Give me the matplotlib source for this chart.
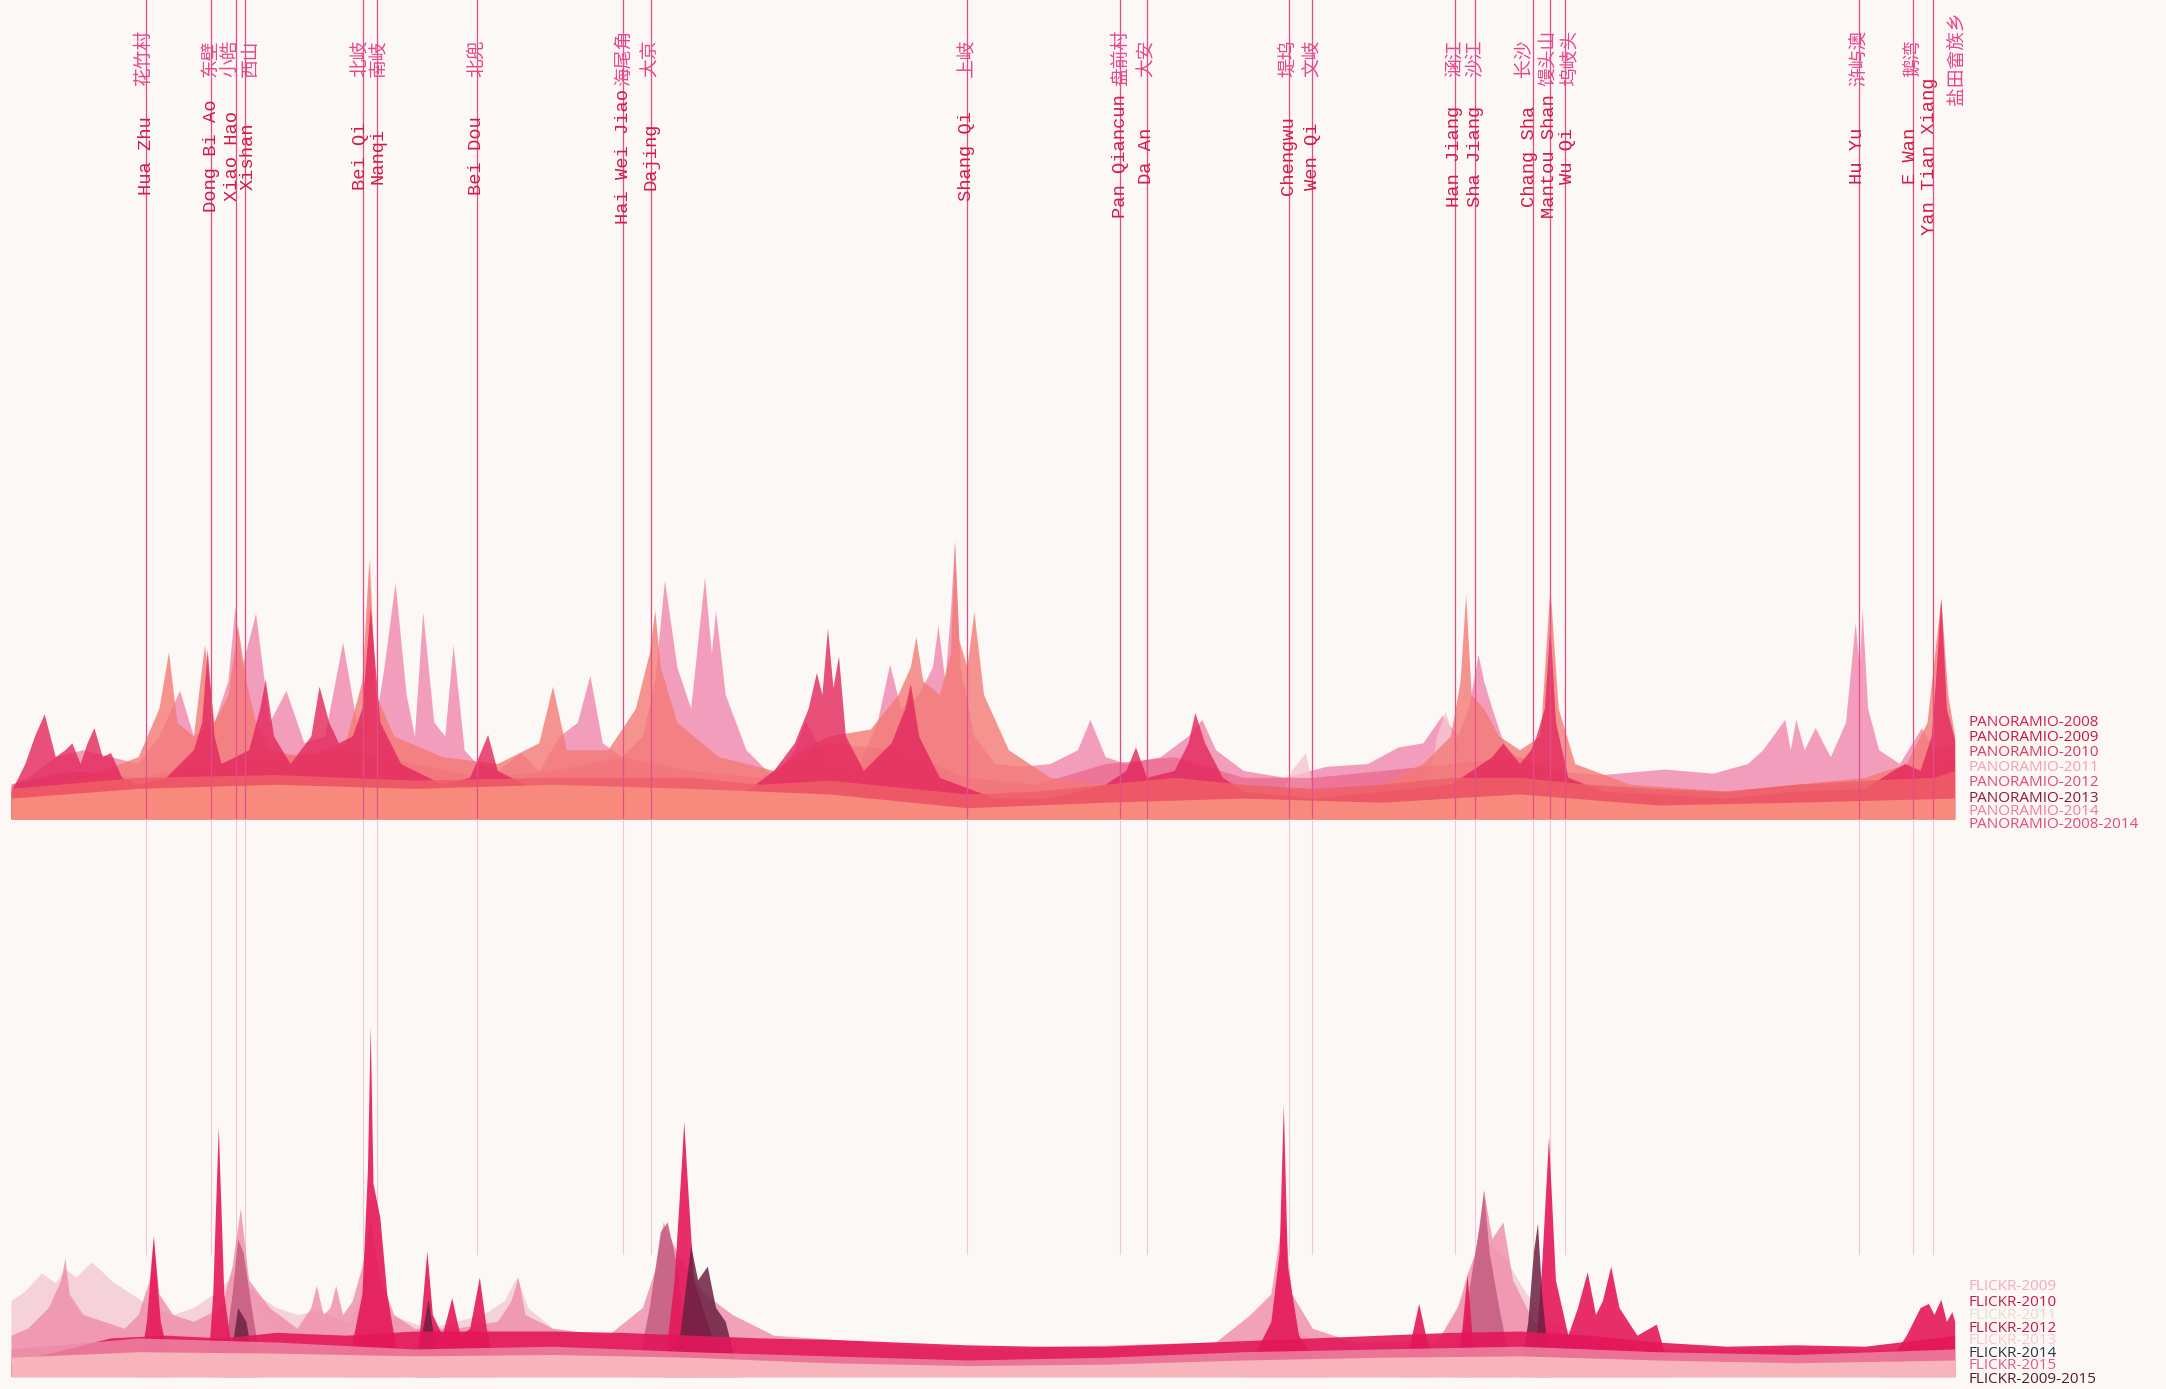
import matplotlib.pyplot as plt

# ---- places along the coast (position in coast units) ----
place_x = [106, 153, 171, 177, 263, 273, 345, 451, 471, 700, 811, 830,
           933, 950, 1053, 1068, 1110, 1122, 1133, 1346, 1385, 1399]
place_en = ["Hua Zhu", "Dong Bi Ao", "Xiao Hao", "Xishan", "Bei Qi", "Nanqi",
            "Bei Dou", "Hai Wei Jiao", "Dajing", "Shang Qi", "Pan Qiancun",
            "Da An", "Chengwu", "Wen Qi", "Han Jiang", "Sha Jiang", "Chang Sha",
            "Mantou Shan", "Wu Qi", "Hu Yu", "E Wan", "Yan Tian Xiang"]
place_zh = ["花竹村", "东壁", "小皓", "西山", "北岐", "南岐", "北兜", "海尾角",
            "大京", "上岐", "盘前村", "大安", "堤坞", "文岐", "涵江", "沙江",
            "长沙", "馒头山", "坞岐头", "浒屿澳", "鹅湾", "盐田畲族乡"]
# label nudges so neighbouring names do not collide
en_shift = [0, 0, -3, 3, -2, 1, 0, 0, 0, 0, 0, 0, 0, 0, 0, 0, -3, 0, 2, -1, -2, -2]
zh_shift = [-2, -1, -4, 4, -2, 1, 0, 0, 0, 0, 0, 0, 0, 0, 0, 0, -7, -2, 4, 0, 0, 17]

# ---- PANORAMIO density layers (x, height) ----
pano_2014_x = [8, 20, 40, 60, 80, 100, 115, 130, 140, 155, 165, 170, 175, 185, 195, 207, 220, 235,
               248, 258, 270, 278, 286, 294, 300, 306, 314, 322, 328, 336, 345, 360, 377, 390, 405,
               418, 427, 436, 450, 465, 474, 481, 490, 500, 510, 515, 518, 525, 540, 560, 575, 583,
               600, 620, 635, 644, 652, 665, 675, 679, 684, 688, 691, 695, 705, 720, 740, 760, 780,
               789, 800, 815, 840, 860, 870, 880, 900, 930, 960, 990, 1012, 1030, 1044, 1055, 1063,
               1070, 1074, 1080, 1090, 1110, 1133, 1160, 1205, 1240, 1265, 1276, 1292, 1296, 1300,
               1306, 1314, 1325, 1336, 1343, 1346, 1348, 1352, 1360, 1375, 1391, 1400, 1415]
pano_2014_h = [25, 30, 45, 50, 45, 40, 60, 93, 60, 70, 100, 153, 110, 149, 70, 93, 55, 60,
               128, 70, 60, 110, 171, 90, 60, 150, 70, 60, 126, 50, 40, 35, 48, 35, 60,
               70, 104, 55, 45, 60, 100, 173, 110, 80, 175, 120, 151, 90, 50, 30, 50, 71,
               40, 35, 70, 112, 80, 90, 110, 140, 100, 150, 201, 110, 60, 40, 38, 40, 50,
               72, 45, 40, 45, 60, 72, 50, 35, 30, 38, 40, 52, 55, 75, 60, 80,
               119, 100, 80, 50, 40, 34, 32, 36, 33, 40, 50, 72, 50, 72,
               50, 66, 45, 70, 142, 110, 152, 80, 50, 40, 66, 50, 55]

pano_2011_x = [250, 262, 266, 268, 272, 280, 920, 935, 945, 955, 1030, 1040, 1046, 1052, 1060]
pano_2011_h = [0, 60, 150, 190, 60, 0, 0, 35, 48, 0, 0, 60, 78, 60, 0]

pano_2010_x = [8, 50, 100, 150, 200, 250, 300, 350, 400, 450, 500, 550, 600, 650, 700, 750,
               800, 850, 900, 950, 1000, 1050, 1100, 1150, 1200, 1250, 1300, 1350, 1400, 1415]
pano_2010_h = [25, 35, 30, 40, 45, 50, 40, 30, 35, 45, 35, 30, 55, 50, 30, 25,
               40, 45, 30, 30, 35, 40, 45, 25, 20, 20, 25, 25, 40, 45]

pano_2012_x = [8, 60, 100, 115, 122, 128, 140, 148, 155, 165, 172, 178, 185, 195, 220, 250, 262,
               267, 272, 285, 320, 360, 390, 400, 410, 440, 460, 470, 474, 478, 490, 520, 560,
               580, 600, 630, 650, 659, 663, 668, 680, 688, 691, 694, 700, 705, 712, 730, 760,
               800, 850, 900, 950, 1000, 1030, 1050, 1057, 1061, 1065, 1074, 1085, 1100, 1115,
               1122, 1128, 1140, 1180, 1250, 1300, 1350, 1380, 1395, 1405, 1410, 1415]
pano_2012_h = [20, 30, 45, 80, 121, 70, 60, 126, 70, 90, 140, 100, 70, 50, 45, 55, 100,
               188, 90, 60, 45, 40, 55, 96, 50, 50, 80, 120, 151, 110, 70, 45, 35,
               50, 60, 65, 90, 110, 132, 100, 90, 120, 201, 130, 110, 150, 90, 50, 30,
               25, 30, 25, 20, 25, 40, 60, 100, 163, 90, 80, 60, 50, 60,
               168, 80, 40, 25, 20, 25, 30, 40, 70, 160, 90, 60]

pano_2008_x = [8, 18, 25, 32, 40, 47, 52, 58, 63, 68, 74, 80, 88, 100, 120, 140, 146, 150, 155,
               160, 180, 188, 192, 198, 210, 225, 231, 238, 245, 255, 262, 268, 275, 290, 320,
               340, 353, 360, 380, 420, 500, 540, 560, 575, 585, 591, 595, 599, 603, 607, 612,
               625, 645, 655, 659, 665, 680, 720, 760, 800, 815, 822, 830, 850, 860, 865, 872,
               885, 900, 950, 1000, 1050, 1080, 1088, 1100, 1108, 1112, 1118, 1122, 1126, 1135,
               1160, 1250, 1300, 1350, 1370, 1379, 1390, 1398, 1401, 1405, 1409, 1415]
pano_2008_h = [20, 40, 60, 76, 45, 50, 55, 40, 55, 66, 45, 48, 30, 25, 30, 50, 70, 123, 60,
               40, 50, 80, 101, 60, 40, 60, 96, 70, 55, 60, 80, 153, 70, 40, 25,
               30, 61, 35, 25, 20, 15, 20, 35, 55, 80, 106, 90, 138, 95, 118, 60,
               35, 55, 80, 98, 60, 30, 15, 15, 25, 35, 52, 30, 35, 55, 77, 55,
               30, 20, 15, 20, 25, 45, 55, 40, 50, 60, 80, 140, 70, 30,
               20, 15, 20, 22, 35, 40, 35, 60, 98, 160, 80, 57]

pano_2009_x = [8, 100, 200, 300, 400, 500, 550, 600, 700, 750, 800, 850, 900, 950, 1000, 1050,
               1100, 1150, 1200, 1250, 1300, 1350, 1400, 1415]
pano_2009_h = [22, 30, 32, 28, 30, 30, 25, 28, 18, 20, 25, 30, 25, 22, 25, 30,
               30, 25, 22, 20, 25, 28, 30, 35]

pano_all_x = [8, 100, 200, 300, 400, 500, 600, 700, 800, 900, 1000, 1100, 1200, 1300, 1415]
pano_all_h = [15, 22, 25, 22, 25, 22, 18, 8, 12, 15, 12, 18, 10, 12, 15]

# ---- FLICKR density layers (x, height) ----
fl_2013_x = [8, 18, 30, 40, 47, 55, 66, 72, 80, 95, 110, 125, 140, 155, 170, 185, 200, 215, 230,
             250, 270, 290, 310, 330, 350, 365, 374, 382, 400, 430, 460, 500, 540, 580, 620, 700,
             800, 900, 930, 960, 1000, 1040, 1060, 1075, 1090, 1105, 1125, 1150, 1200, 1300, 1415]
fl_2013_h = [55, 62, 75, 68, 78, 72, 83, 78, 70, 60, 50, 45, 50, 60, 75, 60, 50, 45, 48,
             40, 45, 42, 35, 40, 45, 55, 72, 50, 35, 30, 28, 25, 22, 20, 15, 12,
             12, 15, 40, 20, 20, 25, 60, 100, 85, 60, 40, 25, 18, 15, 18]

fl_2011_x = [140, 155, 165, 172, 180, 190, 200, 210, 240, 255, 262, 268, 275, 285, 300, 320]
fl_2011_h = [0, 35, 55, 70, 60, 45, 35, 0, 0, 45, 60, 85, 60, 40, 20, 0]

fl_2015_x = [8, 20, 35, 44, 47, 50, 60, 75, 90, 100, 108, 111, 115, 125, 140, 160, 168, 174, 180,
             195, 215, 225, 229, 234, 239, 243, 248, 255, 262, 268, 274, 285, 300, 330, 360, 370,
             375, 380, 400, 440, 465, 475, 480, 490, 500, 510, 530, 560, 700, 880, 905, 920, 929,
             935, 950, 980, 1040, 1055, 1062, 1068, 1074, 1080, 1088, 1095, 1110, 1140, 1200, 1415]
fl_2015_h = [30, 35, 50, 70, 86, 60, 45, 40, 35, 45, 70, 100, 60, 45, 40, 50, 80, 122, 70,
             50, 35, 50, 66, 45, 50, 66, 45, 55, 80, 115, 75, 45, 35, 35, 40, 55,
             72, 45, 35, 30, 50, 80, 112, 90, 75, 60, 45, 30, 20, 25, 45, 60, 120,
             60, 35, 25, 25, 50, 74, 90, 135, 100, 112, 70, 40, 25, 20, 20]

fl_2009_x = [160, 168, 172, 176, 182, 190, 460, 470, 478, 483, 490, 500, 1050, 1060, 1066, 1071,
             1074, 1078, 1085, 1095]
fl_2009_h = [0, 60, 100, 90, 50, 0, 0, 50, 105, 112, 80, 0, 0, 40, 80, 110, 135, 90, 50, 0]

fl_2010_x = [8, 100, 106, 111, 116, 125, 150, 154, 158, 162, 170, 250, 262, 266, 268, 270, 275,
             280, 290, 300, 305, 309, 313, 320, 327, 333, 340, 347, 352, 360, 480, 488, 493, 495,
             497, 502, 515, 540, 900, 920, 926, 929, 932, 940, 960, 1015, 1022, 1027, 1032, 1040,
             1055, 1062, 1068, 1110, 1116, 1121, 1126, 1135, 1142, 1149, 1155, 1160, 1166, 1172,
             1185, 1199, 1210, 1360, 1380, 1390, 1396, 1400, 1405, 1409, 1413, 1415]
fl_2010_h = [0, 0, 40, 102, 40, 0, 0, 60, 181, 60, 0, 0, 60, 150, 254, 140, 115,
             60, 0, 0, 45, 91, 45, 30, 57, 30, 35, 72, 35, 0, 0, 70, 150, 185,
             150, 70, 30, 0, 0, 40, 90, 197, 80, 30, 0, 0, 30, 53, 30, 0,
             0, 74, 0, 0, 80, 174, 70, 30, 50, 76, 45, 55, 80, 50,
             30, 38, 0, 0, 30, 50, 53, 45, 56, 40, 47, 40]

fl_all_x = [165, 172, 178, 185, 300, 305, 310, 318, 480, 492, 500, 505, 512, 518, 525, 535,
            1100, 1106, 1110, 1113, 1116, 1122]
fl_all_h = [0, 50, 40, 0, 0, 30, 56, 0, 0, 30, 95, 70, 80, 50, 40, 0,
            0, 40, 90, 111, 60, 0]

fl_2012_x = [8, 40, 80, 120, 160, 200, 250, 300, 350, 400, 450, 500, 550, 600, 650, 700, 750,
             800, 850, 900, 950, 1000, 1050, 1100, 1150, 1200, 1250, 1300, 1350, 1400, 1415]
fl_2012_h = [10, 18, 28, 30, 28, 32, 30, 33, 33, 33, 32, 30, 28, 27, 25, 23, 22,
             22, 24, 26, 28, 30, 32, 33, 30, 25, 22, 23, 22, 28, 30]

fl_2014_x = [8, 100, 200, 300, 400, 500, 600, 700, 800, 900, 1000, 1100, 1200, 1300, 1415]
fl_2014_h = [20, 28, 25, 20, 22, 18, 15, 12, 14, 18, 20, 22, 18, 16, 20]

fl_base_x = [8, 100, 200, 300, 400, 500, 600, 700, 800, 900, 1000, 1100, 1200, 1300, 1415]
fl_base_h = [14, 18, 17, 15, 16, 14, 10, 8, 9, 12, 14, 15, 12, 10, 12]

pano_labels = ["PANORAMIO-2008", "PANORAMIO-2009", "PANORAMIO-2010", "PANORAMIO-2011",
               "PANORAMIO-2012", "PANORAMIO-2013", "PANORAMIO-2014", "PANORAMIO-2008-2014"]
pano_label_colors = ["#d81b4f", "#c4173f", "#d9375b", "#f4a0b4", "#e2477a", "#8e1a35",
                     "#f07aa6", "#e8467f"]
flickr_labels = ["FLICKR-2009", "FLICKR-2010", "FLICKR-2011", "FLICKR-2012", "FLICKR-2013",
                 "FLICKR-2014", "FLICKR-2015", "FLICKR-2009-2015"]
flickr_label_colors = ["#f7a8bf", "#c9174a", "#e9dccb", "#c8173f", "#f7c8cf", "#2f3245",
                       "#e8568a", "#5a1a2a"]

bg = "#fcf8f5"
fig = plt.figure(figsize=(21.66, 13.89), dpi=100, facecolor=bg)
W, H = 1568.0, 1006.0
left, width = 8 / W, 1407 / W
ax_top = fig.add_axes([left, 1 - 593 / H, width, 593 / H])
ax_bot = fig.add_axes([left, 1 - 997 / H, width, 404 / H])
for ax in (ax_top, ax_bot):
    ax.set_xlim(8, 1415)
    ax.axis("off")
    ax.patch.set_alpha(0)
ax_top.set_ylim(0, 593)
ax_bot.set_ylim(0, 404)

# top chart layers
ax_top.fill_between(pano_2014_x, pano_2014_h, color="#f28db4", alpha=0.85, lw=0)
ax_top.fill_between(pano_2011_x, pano_2011_h, color="#f6c6d0", alpha=0.8, lw=0)
ax_top.fill_between(pano_2010_x, pano_2010_h, color="#e8557d", alpha=0.55, lw=0)
ax_top.fill_between(pano_2012_x, pano_2012_h, color="#f47a76", alpha=0.8, lw=0)
ax_top.fill_between(pano_2008_x, pano_2008_h, color="#e3265c", alpha=0.8, lw=0)
ax_top.fill_between(pano_2009_x, pano_2009_h, color="#ef6068", alpha=0.8, lw=0)
ax_top.fill_between(pano_all_x, pano_all_h, color="#f78a7c", alpha=1, lw=0)

# bottom chart layers
ax_bot.fill_between(fl_2013_x, fl_2013_h, color="#f4ccd5", alpha=0.85, lw=0)
ax_bot.fill_between(fl_2011_x, fl_2011_h, color="#efe4d6", alpha=0.85, lw=0)
ax_bot.fill_between(fl_2015_x, fl_2015_h, color="#ee86a6", alpha=0.75, lw=0)
ax_bot.fill_between(fl_2009_x, fl_2009_h, color="#c45c80", alpha=0.85, lw=0)
ax_bot.fill_between(fl_2010_x, fl_2010_h, color="#e5185b", alpha=0.9, lw=0)
ax_bot.fill_between(fl_all_x, fl_all_h, color="#6a2141", alpha=0.85, lw=0)
ax_bot.fill_between(fl_2012_x, fl_2012_h, color="#e3175b", alpha=0.9, lw=0)
ax_bot.fill_between(fl_2014_x, fl_2014_h, color="#ee8aa5", alpha=0.8, lw=0)
ax_bot.fill_between(fl_base_x, fl_base_h, color="#f7b5bb", alpha=1, lw=0)

# place lines and labels
for i, x in enumerate(place_x):
    ax_top.axvline(x, color="#e44d88", lw=0.9, zorder=5)
    ax_bot.axvline(x, ymin=0.22, color="#eeb3c6", lw=0.8, alpha=0.7, zorder=0)
    ax_top.text(x + en_shift[i], 480, place_en[i], rotation=90, ha="center", va="center",
                fontsize=13.5, family="Liberation Mono", color="#d41a46", zorder=6)
    ax_top.text(x + zh_shift[i], 551, place_zh[i], rotation=90, ha="center", va="center",
                fontsize=13.5, family=["Noto Sans CJK SC", "DejaVu Sans"], color="#e8478a",
                zorder=6)

# legends
for i, lab in enumerate(pano_labels):
    ys = [523, 534, 545, 556, 567, 578, 588, 597][i]
    fig.text(1425 / W, 1 - ys / H, lab, fontsize=11, family="Open Sans",
             color=pano_label_colors[i], va="center", ha="left")
for i, lab in enumerate(flickr_labels):
    ys = [932, 943, 953, 962, 971, 980, 989, 999][i]
    fig.text(1425 / W, 1 - ys / H, lab, fontsize=11, family="Open Sans",
             color=flickr_label_colors[i], va="center", ha="left")

plt.savefig("out.png", dpi=100, facecolor=bg)
